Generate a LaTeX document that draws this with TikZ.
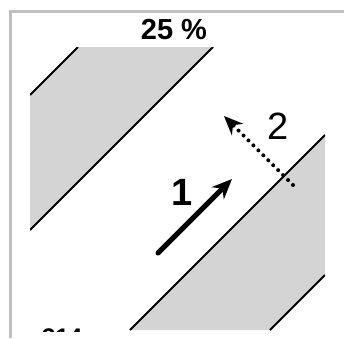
\documentclass[tikz,border=0pt]{standalone}
\usepackage{fontspec}
\setmainfont{Liberation Sans}
\usetikzlibrary{arrows.meta}
\begin{document}
\begin{tikzpicture}[x=1pt,y=-1pt,
  band/.style={fill=black!17},
  edge/.style={draw=black,line width=2pt},
  arr/.style={-{Stealth[length=20pt,width=17pt]},line width=5pt,line cap=round},
  dotarr/.style={-{Stealth[length=19pt,width=16pt]},line width=4pt,line cap=round,dash pattern=on 0pt off 7pt},
  lbl/.style={font=\fontsize{38}{40}\selectfont,inner sep=0pt},
]
\useasboundingbox (0,0) rectangle (344,338);
% frame
\draw[draw=black!25,line width=3pt] (10,338) -- (10,11.5) -- (344,11.5);
% image area
\begin{scope}
\clip (30,47) rectangle (325,331);
\fill[band] (30,95) -- (78,47) -- (213,47) -- (30,230) -- cycle;
\fill[band] (130,330) -- (325,135) -- (325,275) -- (270,330) -- cycle;
\draw[edge] (30,95) -- (78,47);
\draw[edge] (30,230) -- (213,47);
\draw[edge] (130,330) -- (325,135);
\draw[edge] (270,330) -- (325,275);
\end{scope}
\node[font=\bfseries\fontsize{29}{31}\selectfont,inner sep=0pt] (title) at (174,30) {25 \%};
% arrows
\coordinate (a1s) at (158,253);
\coordinate (a1e) at (232,179);
\draw[arr] (a1s) -- (a1e);
\coordinate (a2s) at (293,185);
\coordinate (a2e) at (224,116);
\draw[dotarr] (a2s) -- (a2e);
\node[lbl,font=\bfseries\fontsize{38}{40}\selectfont] (l1) at (182,192) {1};
\node[lbl] (l2) at (278,126) {2};
% cut-off text at bottom
\begin{scope}
\clip (30,320) rectangle (130,331);
\node[font=\bfseries\fontsize{24}{26}\selectfont,inner sep=0pt,anchor=base west] (cut) at (42,345) {314};
\end{scope}
\end{tikzpicture}
\end{document}
